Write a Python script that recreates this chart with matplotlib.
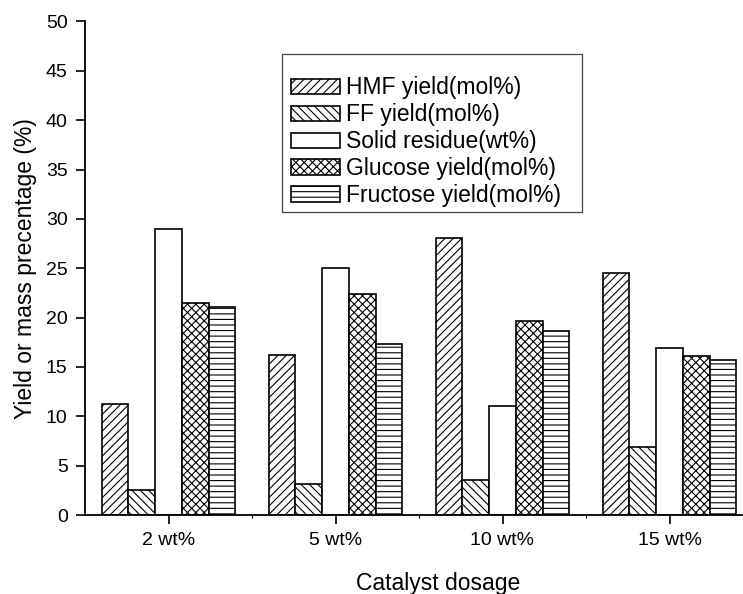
import numpy as np
import matplotlib
matplotlib.use("Agg")
import matplotlib.pyplot as plt
from matplotlib.patches import Rectangle
from matplotlib.ticker import FixedLocator

plt.rcParams['font.family'] = ['Liberation Sans', 'DejaVu Sans']
plt.rcParams['hatch.linewidth'] = 0.8

dosages = ["2 wt%", "5 wt%", "10 wt%", "15 wt%"]
series_names = ["HMF yield(mol%)", "FF yield(mol%)", "Solid residue(wt%)",
                "Glucose yield(mol%)", "Fructose yield(mol%)"]
hmf = [11.2, 16.2, 28.1, 24.5]
ff = [2.5, 3.1, 3.5, 6.9]
solid = [29.0, 25.0, 11.0, 16.9]
glucose = [21.5, 22.4, 19.7, 16.1]
fructose = [21.1, 17.3, 18.6, 15.7]
hatches = ["////", "\\\\\\\\", "", "xxxx", "---"]

W, H = 743, 594
fig = plt.figure(figsize=(W / 100, H / 100), dpi=100)
ax = fig.add_axes([85 / W, 1 - 515 / H, 668 / W, 493.5 / H])

x = np.arange(len(dosages))
width = 0.16
for i, (vals, name, h) in enumerate(zip([hmf, ff, solid, glucose, fructose], series_names, hatches)):
    ax.bar(x + (i - 2) * width, vals, width, color="white", edgecolor="black",
           linewidth=1.2, hatch=h, label=name)

ax.set_xlim(-0.5, 3.5)
ax.set_ylim(0, 50)
ax.set_xticks(x)
ax.set_xticklabels(dosages)
ax.xaxis.set_minor_locator(FixedLocator(x[:-1] + 0.5))
ax.set_yticks(np.arange(0, 51, 5))
ax.spines["top"].set_visible(False)
ax.spines["right"].set_visible(False)
for s in ["left", "bottom"]:
    ax.spines[s].set_linewidth(1.3)
ax.tick_params(axis="both", which="major", direction="out", length=6.5, width=1.2,
               labelsize=14, pad=6)
ax.tick_params(axis="x", which="minor", direction="out", length=2, width=0.8)

ax.set_xlabel("Catalyst dosage", fontsize=16.5)
ax.set_ylabel("Yield or mass precentage (%)", fontsize=16.5)
ax.xaxis.set_label_coords(0.528, -0.1155)
ax.yaxis.set_label_coords(-0.0719, 0.5)

# legend entries without frame, box drawn separately (extra room on top)
leg = ax.legend(loc="upper left", bbox_to_anchor=(280 / W, 1 - 65 / H),
                bbox_transform=fig.transFigure, borderaxespad=0, fontsize=16.5,
                handlelength=2.1, handleheight=0.65, labelspacing=0.17,
                handletextpad=0.3, borderpad=0.5, frameon=False)
box = Rectangle((282 / W, 1 - 212 / H), 300 / W, 158 / H, transform=fig.transFigure,
                fill=False, edgecolor="#444444", linewidth=0.9)
fig.patches.append(box)

fig.savefig("out.png", dpi=100)
